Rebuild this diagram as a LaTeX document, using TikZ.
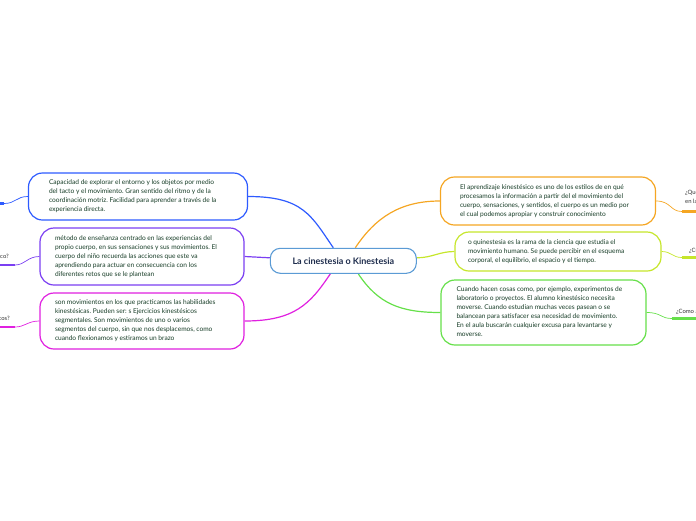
\documentclass[tikz,border=0pt]{standalone}
\usepackage{fontspec}
\setmainfont{Lato}
\usetikzlibrary{calc,backgrounds}
\definecolor{cblue}{HTML}{2E5BFF}
\definecolor{cpurple}{HTML}{7B3FF2}
\definecolor{cmag}{HTML}{E020E0}
\definecolor{corange}{HTML}{F5A623}
\definecolor{cyellow}{HTML}{C6E62B}
\definecolor{cgreen}{HTML}{66E04A}
\definecolor{ccentral}{HTML}{5B9BD5}
\definecolor{txt}{HTML}{173D27}
\definecolor{navy}{HTML}{1F2D4D}
\definecolor{labtxt}{HTML}{333333}
\frenchspacing
\newcommand{\tblock}[2]{\makebox[#1][l]{\begin{tabular}{@{}l@{}}#2\end{tabular}}}
\begin{document}
\begin{tikzpicture}[x=1pt,y=-1pt,
  topic/.style={draw, rounded corners=14pt, line width=1.2pt, fill=white, text=txt,
    font=\fontsize{6.6}{9}\selectfont, inner sep=0pt, anchor=center},
  central/.style={draw=ccentral, rounded corners=10pt, line width=1.1pt, fill=white, text=navy,
    font=\fontsize{9}{11}\bfseries\selectfont, inner sep=0pt, anchor=center,
    minimum width=146pt, minimum height=25pt},
  conn/.style={line width=1.2pt},
  thinline/.style={line width=0.7pt},
  under/.style={line width=2.4pt},
  lab/.style={text=labtxt, font=\fontsize{5.9}{9}\selectfont, inner sep=0pt, align=left}]
\useasboundingbox (0,0) rectangle (696,520);
\clip (0,0) rectangle (696,520);

% nodes
\node[central] (c) at (343.3,260.8) {La cinestesia o Kinestesia};
\node[topic, draw=cblue, minimum width=219pt, minimum height=47pt] (n1) at (138,196.5)
 {\tblock{178pt}{Capacidad de explorar el entorno y los objetos por medio\\del tacto y el movimiento. Gran sentido del ritmo y de la\\coordinación motriz. Facilidad para aprender a través de la\\experiencia directa.}};
\node[topic, draw=cpurple, minimum width=204pt, minimum height=57pt] (n2) at (142,256.5)
 {\tblock{174pt}{método de enseñanza centrado en las experiencias del\\propio cuerpo, en sus sensaciones y sus movimientos. El\\cuerpo del niño recuerda las acciones que este va\\aprendiendo para actuar en consecuencia con los\\diferentes retos que se le plantean}};
\node[topic, draw=cmag, minimum width=204pt, minimum height=56pt] (n3) at (142,321)
 {\tblock{174pt}{son movimientos en los que practicamos las habilidades\\kinestésicas. Pueden ser: s Ejercicios kinestésicos\\segmentales. Son movimientos de uno o varios\\segmentos del cuerpo, sin que nos desplacemos, como\\cuando flexionamos y estiramos un brazo}};
\node[topic, draw=corange, minimum width=215pt, minimum height=48pt] (r1) at (548,201)
 {\tblock{176pt}{El aprendizaje kinestésico es uno de los estilos de en qué\\procesamos la información a partir del el movimiento del\\cuerpo, sensaciones, y sentidos, el cuerpo es un medio por\\el cual podemos apropiar y construir conocimiento}};
\node[topic, draw=cyellow, minimum width=206pt, minimum height=39pt] (r2) at (558,251.5)
 {\tblock{180pt}{o quinestesia es la rama de la ciencia que estudia el\\movimiento humano. Se puede percibir en el esquema\\corporal, el equilibrio, el espacio y el tiempo.}};
\node[topic, draw=cgreen, minimum width=205pt, minimum height=65pt] (r3) at (543.5,312.5)
 {\tblock{174pt}{Cuando hacen cosas como, por ejemplo, experimentos de\\laboratorio o proyectos. El alumno kinestésico necesita\\moverse. Cuando estudian muchas veces pasean o se\\balancean para satisfacer esa necesidad de movimiento.\\En el aula buscarán cualquier excusa para levantarse y\\moverse.}};

% coordinates for outer topics
\coordinate (l1) at (4,203.5);   \coordinate (l1e) at (-40,203.5);
\coordinate (l2) at (15,265);    \coordinate (l2e) at (-40,265);
\coordinate (l3) at (15,327);    \coordinate (l3e) at (-40,327);
\coordinate (q1) at (682,211.5); \coordinate (q1e) at (740,211.5);
\coordinate (q2) at (682,257.5); \coordinate (q2e) at (740,257.5);
\coordinate (q3) at (672,318.5); \coordinate (q3e) at (740,318.5);

% outer labels (cut by the edge of the picture, as in the reference)
\node[lab, anchor=base east] (t2) at (9,258.5) {¿Qué es el método kinestésico?};
\node[lab, anchor=base east] (t3) at (10,320) {¿Qué son los ejercicios kinestésicos?};
\node[lab, anchor=north west] (u1) at (685,190) {¿Qué es el aprendizaje kinestésico\\en la educación?};
\node[lab, anchor=base west] (u2) at (689,252) {¿Cuál es su definición?};
\node[lab, anchor=base west] (u3) at (676,313.5) {¿Como aprenden?};

\begin{pgfonlayer}{background}
  % main connectors
  \draw[conn, cblue] (n1.east) .. controls +(55,0) and +(-22,-32) .. ($(c.north)+(-10,0)$);
  \draw[conn, corange] ($(c.north)+(12,0)$) .. controls +(20,-30) and +(-40,0) .. (r1.west);
  \draw[conn, cpurple] (n2.east) .. controls +(12,0) and +(-12,0) .. ($(c.west)+(0,-3)$);
  \draw[conn, cyellow] ($(c.east)+(0,-3)$) .. controls +(15,0) and +(-15,0) .. (r2.west);
  \draw[conn, cmag] ($(c.south)+(-13,0)$) .. controls +(-20,30) and +(50,0) .. (n3.east);
  \draw[conn, cgreen] ($(c.south)+(15,0)$) .. controls +(20,30) and +(-40,0) .. (r3.west);
  % outer connectors
  \draw[thinline, cblue] (n1.west) .. controls +(-12,0) and +(12,0) .. (l1);
  \draw[under, cblue] (l1) -- (l1e);
  \draw[thinline, cpurple] (n2.west) .. controls +(-12,0) and +(10,0) .. (l2);
  \draw[under, cpurple] (l2) -- (l2e);
  \draw[thinline, cmag] (n3.west) .. controls +(-12,0) and +(10,0) .. (l3);
  \draw[under, cmag] (l3) -- (l3e);
  \draw[thinline, corange] (r1.east) .. controls +(15,0) and +(-12,0) .. (q1);
  \draw[under, corange] (q1) -- (q1e);
  \draw[thinline, cyellow] (r2.east) .. controls +(10,0) and +(-10,0) .. (q2);
  \draw[under, cyellow] (q2) -- (q2e);
  \draw[thinline, cgreen] (r3.east) .. controls +(15,0) and +(-12,0) .. (q3);
  \draw[under, cgreen] (q3) -- (q3e);
\end{pgfonlayer}
\end{tikzpicture}
\end{document}
